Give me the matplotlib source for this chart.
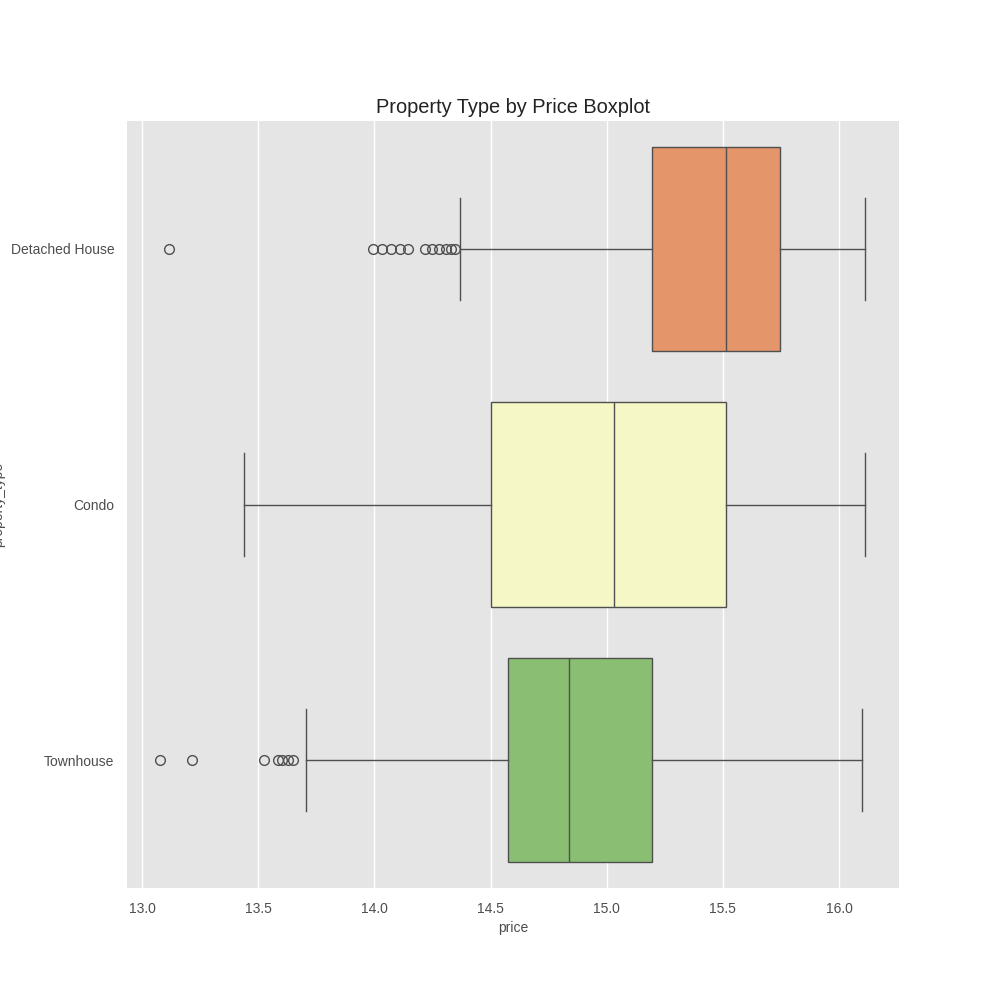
import matplotlib
matplotlib.use("Agg")
import matplotlib.pyplot as plt

# values
categories = ["Detached House", "Condo", "Townhouse"]
box_colors = ["#e5956a", "#f5f7c6", "#8abf73"]

whisker_low = [14.369, 13.439, 13.706]
q1 = [15.195, 14.502, 14.575]
median = [15.514, 15.032, 14.838]
q3 = [15.746, 15.514, 15.195]
whisker_high = [16.112, 16.112, 16.099]

outliers = [
    [13.116, 13.994, 14.033, 14.072, 14.110, 14.145,
     14.218, 14.248, 14.278, 14.308, 14.330, 14.347],
    [],
    [13.077, 13.215, 13.525, 13.585, 13.603, 13.628, 13.650],
]

x_ticks = [13.0, 13.5, 14.0, 14.5, 15.0, 15.5, 16.0]

plt.rcParams["font.family"] = ["Liberation Sans", "DejaVu Sans"]

fig, ax = plt.subplots(figsize=(10, 10), dpi=100)
fig.subplots_adjust(left=0.127, right=0.899, top=0.879, bottom=0.112)
ax.set_facecolor("#e5e5e5")

stats = []
for i, name in enumerate(categories):
    stats.append({
        "label": name,
        "whislo": whisker_low[i],
        "q1": q1[i],
        "med": median[i],
        "q3": q3[i],
        "whishi": whisker_high[i],
        "fliers": outliers[i],
    })

line_col = "#4f4f4f"
bp = ax.bxp(
    stats,
    positions=range(len(categories)),
    orientation="horizontal",
    widths=0.8,
    patch_artist=True,
    capwidths=0.4,
    boxprops=dict(edgecolor=line_col, linewidth=1.0),
    medianprops=dict(color=line_col, linewidth=1.0),
    whiskerprops=dict(color=line_col, linewidth=1.0),
    capprops=dict(color=line_col, linewidth=1.0),
    flierprops=dict(marker="o", markerfacecolor="none", markeredgecolor=line_col,
                    markersize=7, markeredgewidth=1.0),
)
for patch, c in zip(bp["boxes"], box_colors):
    patch.set_facecolor(c)

ax.set_xlim(12.935, 16.258)
ax.set_ylim(2.5, -0.5)
ax.set_xticks(x_ticks)
ax.set_yticks(range(len(categories)))
ax.set_yticklabels(categories)

ax.grid(axis="x", color="white", linewidth=1.0)
ax.grid(axis="y", visible=False)
ax.set_axisbelow(True)
for s in ax.spines.values():
    s.set_visible(False)
ax.tick_params(axis="x", length=0, labelsize=10, colors="#4d4d4d", pad=10)
ax.tick_params(axis="y", length=0, labelsize=10, colors="#4d4d4d", pad=9)

ax.set_xlabel("price", fontsize=10, color="#4d4d4d", labelpad=4)
ax.set_ylabel("property_type", fontsize=10, color="#4d4d4d", labelpad=4)
ax.set_title("Property Type by Price Boxplot", fontsize=14.4, color="#222222", pad=6)

fig.savefig("out.png", dpi=100)
